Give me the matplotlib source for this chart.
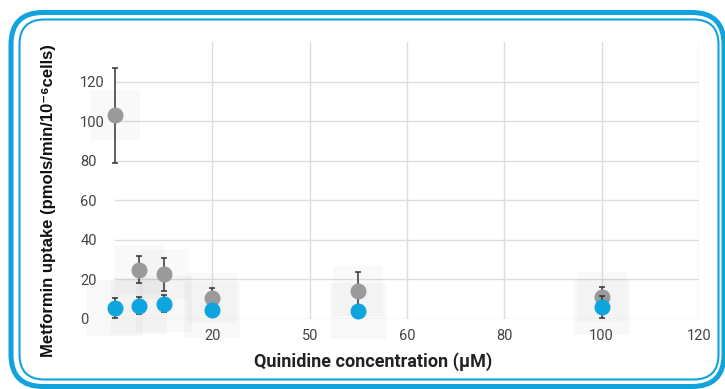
import matplotlib.pyplot as plt
from matplotlib.patches import FancyBboxPatch

plt.rcParams['font.family'] = ['Roboto', 'DejaVu Sans']

# quinidine dose (uM) and metformin uptake (pmols/min/10^-6 cells)
conc = [0, 5, 10, 20, 50, 100]
uptake_ctrl = [103, 25, 22.5, 10.7, 14, 11.2]
err_ctrl = [24, 7, 8.5, 5, 10, 5]
uptake_blue = [5.5, 6.7, 7.7, 4.5, 4, 6]
err_blue = [5, 4.4, 4.3, 1, 1, 5.5]

x_ticks = [20, 40, 60, 80, 100, 120]
x_ticklabels = ['20', '50', '60', '80', '100', '120']
y_ticks = [0, 20, 40, 60, 80, 100, 120]

BLUE = '#0ea5df'
GREY = '#999a9b'
FRAME = '#12a3dd'


def rounded_box(ax, x0, y0, x1, y1, r, lw):
    ax.add_patch(FancyBboxPatch((x0 + r, y0 + r), x1 - x0 - 2 * r, y1 - y0 - 2 * r,
                                boxstyle='round,pad=%g' % r, fill=False,
                                ec=FRAME, lw=lw))


fig = plt.figure(figsize=(7.25, 3.89), dpi=100)

# rounded double frame drawn in pixel units
bg = fig.add_axes([0, 0, 1, 1])
bg.set_xlim(0, 725)
bg.set_ylim(389, 0)
bg.axis('off')
rounded_box(bg, 11, 12.5, 724, 386.5, 32, 3.6)
rounded_box(bg, 19.5, 19.5, 718.5, 379.5, 25, 1.5)

ax = fig.add_axes([115 / 725, 70 / 389, 584 / 725, 277 / 389])
ax.set_xlim(0, 120)
ax.set_ylim(0, 140)

# soft haze behind the markers
ax.scatter(conc, uptake_ctrl, s=1300, marker='s', color='#888888', alpha=0.045,
           lw=0, zorder=1, clip_on=False)
ax.scatter(conc, uptake_blue, s=1600, marker='s', color='#888888', alpha=0.05,
           lw=0, zorder=1, clip_on=False)

ax.errorbar(conc, uptake_ctrl, yerr=err_ctrl, fmt='o', color=GREY, ms=10.5,
            ecolor='#333333', elinewidth=1.1, capsize=2.5, capthick=1.1,
            zorder=3, clip_on=False)
ax.errorbar(conc, uptake_blue, yerr=err_blue, fmt='o', color=BLUE, ms=10.5,
            ecolor='#333333', elinewidth=1.1, capsize=2.5, capthick=1.1,
            zorder=4, clip_on=False)

ax.set_xticks(x_ticks)
ax.set_xticklabels(x_ticklabels)
ax.set_yticks(y_ticks)
ax.grid(True, color='#dddddd', lw=1)
ax.set_axisbelow(True)
for s in ax.spines.values():
    s.set_visible(False)
ax.tick_params(length=0, labelsize=10.5, labelcolor='#444444')
ax.tick_params(axis='x', pad=7)
ax.tick_params(axis='y', pad=25)
for lab in ax.get_yticklabels():
    lab.set_ha('left')

fig.text(373 / 725, 1 - 362 / 389, 'Quinidine concentration (μM)',
         ha='center', va='center', fontsize=13, fontweight='bold',
         color='#222222')
fig.text(49 / 725, 1 - 201 / 389,
         'Metformin uptake (pmols/min/10⁻⁶cells)',
         ha='center', va='center', rotation=90, fontsize=12,
         fontweight='bold', color='#111111',
         family=['Liberation Sans', 'DejaVu Sans'])

fig.savefig('out.png', dpi=100)
